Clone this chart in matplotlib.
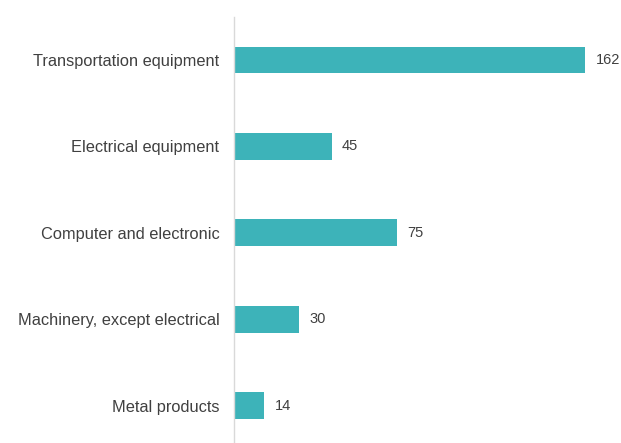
import numpy as np
from matplotlib import pyplot as plt

plt.rcParams['font.family'] = ['Liberation Sans', 'DejaVu Sans']

categories = ["Transportation equipment", "Electrical equipment", "Computer and electronic",
              "Machinery, except electrical", "Metal products"]
values = [162, 45, 75, 30, 14]

fig = plt.figure(figsize=(6.21, 4.43), dpi=100)
ax = fig.add_axes([234/621, 0, 1 - 234/621, 1 - 17/443])

y = np.arange(len(categories))
ax.barh(y, values, height=0.31, color="#3db3b9")
for yi, v in zip(y, values):
    ax.annotate(str(v), (v, yi), xytext=(7.5, 0), textcoords="offset points",
                va="center", ha="left", fontsize=10.5, color="#404040")

ax.set_yticks(y)
ax.set_yticklabels(categories, fontsize=11.8, color="#404040")
ax.tick_params(axis="y", length=0, pad=10.5)
ax.set_xticks([])
ax.set_xlim(0, (621 - 234) / 2.167)
ax.set_ylim(4.43, -0.497)
for s in ["top", "right", "bottom"]:
    ax.spines[s].set_visible(False)
ax.spines["left"].set_color("#d9d9d9")
ax.spines["left"].set_linewidth(1)

plt.savefig("out.png", dpi=100)
